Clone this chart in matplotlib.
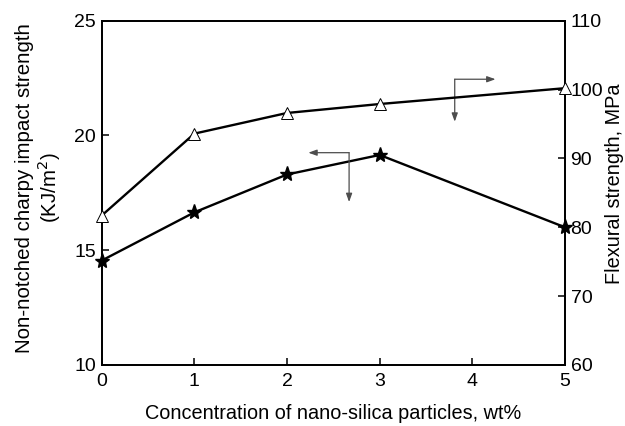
import matplotlib
matplotlib.use("Agg")
import matplotlib.pyplot as plt

plt.rcParams['font.family'] = ['Liberation Sans', 'DejaVu Sans']

# silica loading, wt%
silica_wt = [0, 1, 2, 3, 5]
# non-notched charpy impact strength, KJ/m^2 (left axis)
impact_strength = [14.55, 16.65, 18.3, 19.15, 16.0]
# flexural strength, MPa (right axis)
flexural_strength = [81.7, 93.6, 96.6, 97.9, 100.2]

x_ticks = [0, 1, 2, 3, 4, 5]
left_ticks = [10, 15, 20, 25]
right_ticks = [60, 70, 80, 90, 100, 110]

fig = plt.figure(figsize=(6.25, 4.26), dpi=100)
ax = fig.add_axes([0.1627, 0.1432, 0.7413, 0.8082])
ax2 = ax.twinx()

ax.plot(silica_wt, impact_strength, color='black', lw=1.7, marker='*',
        markersize=11, markerfacecolor='black', markeredgecolor='black',
        clip_on=False, zorder=3)
ax2.plot(silica_wt, flexural_strength, color='black', lw=1.7, marker='^',
         markersize=8.5, markerfacecolor='white', markeredgecolor='black',
         markeredgewidth=0.7, clip_on=False, zorder=3)

ax.set_xlim(0, 5)
ax.set_ylim(10, 25)
ax2.set_ylim(60, 110)
ax.set_xticks(x_ticks)
ax.set_yticks(left_ticks)
ax2.set_yticks(right_ticks)

for a in (ax, ax2):
    for s in a.spines.values():
        s.set_linewidth(1.3)
    a.tick_params(direction='in', length=5, width=1.1, labelsize=14, pad=4)
ax.tick_params(axis='x', pad=6)

ax.set_xlabel('Concentration of nano-silica particles, wt%', fontsize=14.3, labelpad=10)
ax.set_ylabel('Non-notched charpy impact strength\n(KJ/m$^2$)', fontsize=14.8,
              labelpad=8, linespacing=1.1)
ax2.set_ylabel('Flexural strength, MPa', fontsize=14.3, labelpad=1)
ax.yaxis.label.set_y(0.515)
ax2.yaxis.label.set_y(0.527)

# guide arrows: which curve belongs to which axis
arrow_kw = dict(arrowstyle='-|>,head_length=0.5,head_width=0.18', color='0.3', lw=0.9,
                shrinkA=0, shrinkB=0)
ax.annotate('', xy=(2.23, 19.25), xytext=(2.67, 19.25), arrowprops=arrow_kw)
ax.annotate('', xy=(2.67, 17.1), xytext=(2.67, 19.25), arrowprops=arrow_kw)
ax.annotate('', xy=(4.25, 22.45), xytext=(3.81, 22.45), arrowprops=arrow_kw)
ax.annotate('', xy=(3.81, 20.6), xytext=(3.81, 22.45), arrowprops=arrow_kw)

fig.savefig('out.png', dpi=100)
